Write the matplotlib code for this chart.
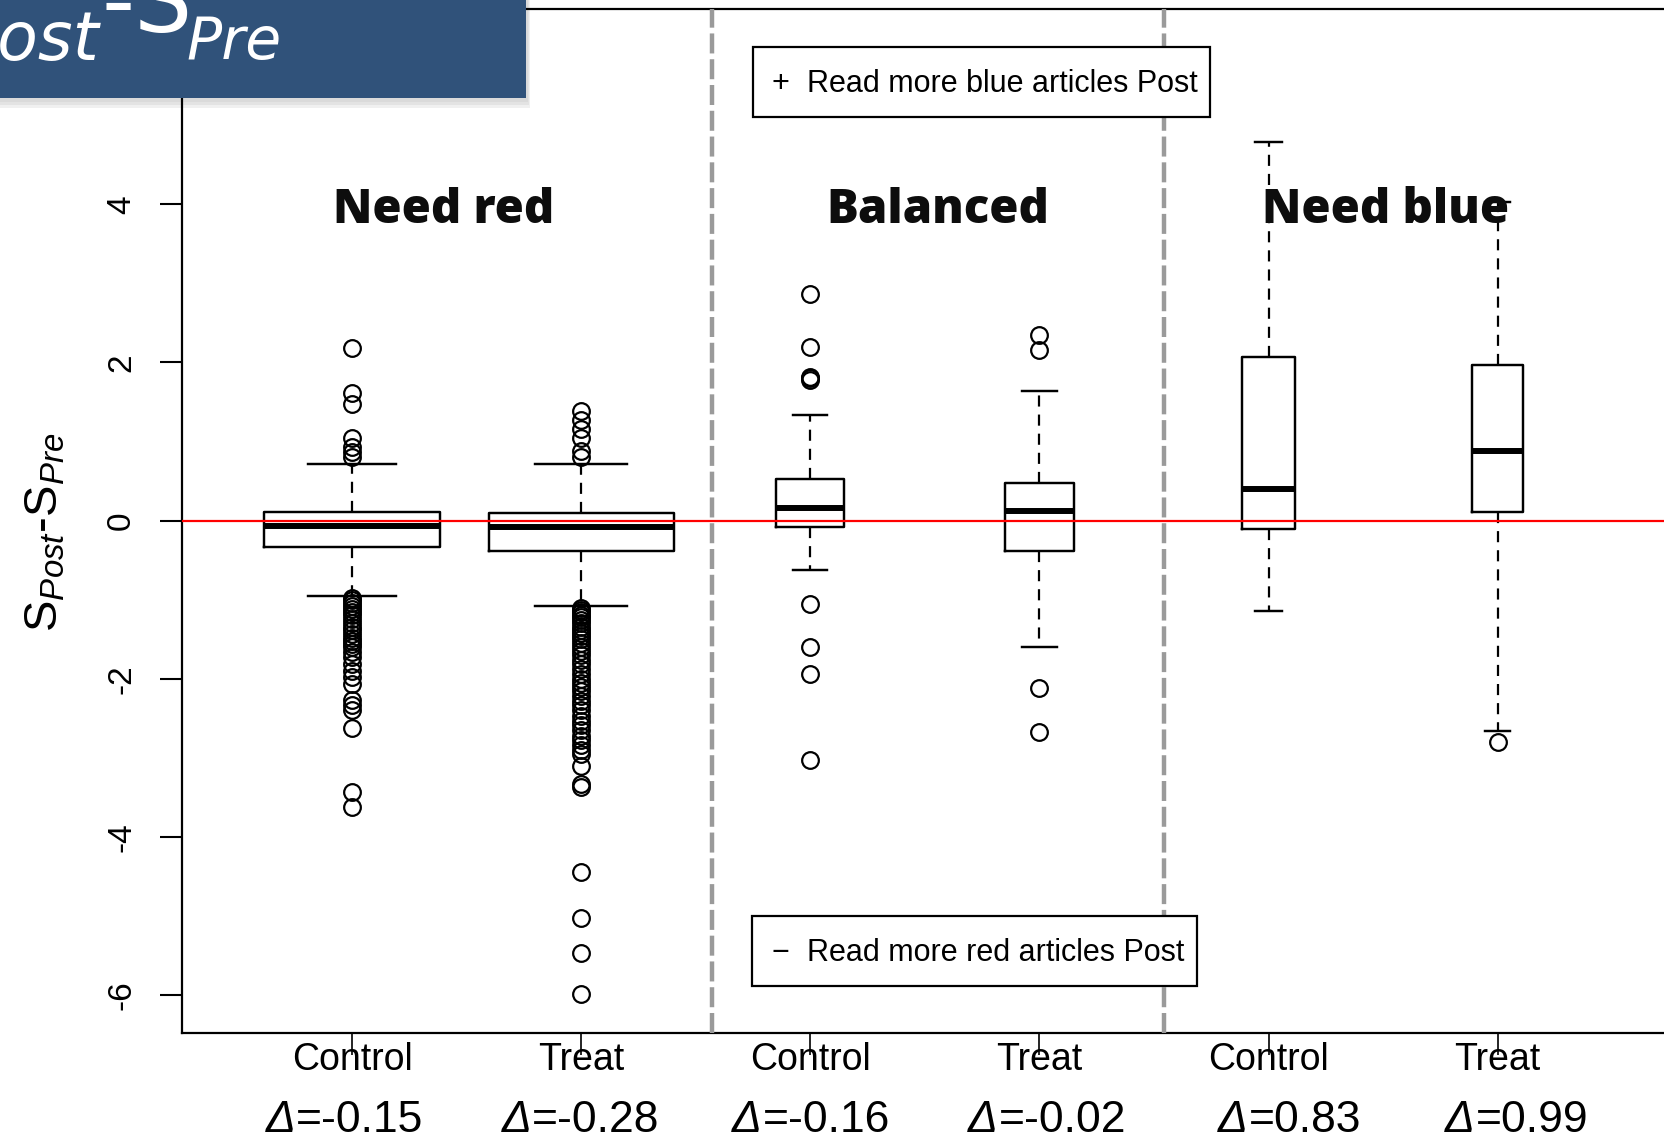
import matplotlib
matplotlib.use('Agg')
import matplotlib.pyplot as plt
from matplotlib.patches import Rectangle
from matplotlib.transforms import blended_transform_factory, offset_copy

plt.rcParams['axes.unicode_minus'] = False
plt.rcParams['mathtext.fontset'] = 'custom'
plt.rcParams['mathtext.rm'] = 'Liberation Sans'
plt.rcParams['mathtext.it'] = 'Liberation Sans:italic'

# data
groups = ['Need red', 'Balanced', 'Need blue']
tick_labels = ['Control', 'Treat', 'Control', 'Treat', 'Control', 'Treat']
deltas = ['-0.15', '-0.28', '-0.16', '-0.02', '0.83', '0.99']

q1 = [-0.33, -0.386, -0.086, -0.39, -0.11, 0.11]
med = [-0.07, -0.086, 0.16, 0.12, 0.40, 0.88]
q3 = [0.11, 0.09, 0.525, 0.48, 2.07, 1.97]
whislo = [-0.96, -1.08, -0.63, -1.60, -1.145, -2.66]
whishi = [0.72, 0.72, 1.33, 1.64, 4.79, 4.03]

fliers_red_ctrl = [2.18, 1.61, 1.48, 1.04, 0.93, 0.87, 0.81,
                   -0.98, -1.01, -1.04, -1.08, -1.12, -1.16, -1.2, -1.25, -1.3,
                   -1.34, -1.38, -1.43, -1.48, -1.52, -1.56, -1.6, -1.66, -1.73,
                   -1.82, -1.9, -1.98, -2.07, -2.27, -2.33, -2.4, -2.62, -3.43, -3.62]
fliers_red_treat = [1.38, 1.27, 1.16, 1.05, 0.88, 0.81,
                    -1.1, -1.13, -1.16, -1.19, -1.22, -1.26, -1.3, -1.34, -1.38,
                    -1.42, -1.46, -1.5, -1.55, -1.6, -1.65, -1.7, -1.76, -1.82,
                    -1.88, -1.94, -2.0, -2.05, -2.1, -2.16, -2.22, -2.28, -2.33,
                    -2.4, -2.47, -2.53, -2.59, -2.65, -2.72, -2.78, -2.84, -2.9,
                    -2.95, -3.11, -3.33, -3.37, -4.44, -5.03, -5.47, -5.99]
fliers_bal_ctrl = [2.87, 2.20, 1.82, 1.80, 1.78, -1.06, -1.60, -1.94, -3.03]
fliers_bal_treat = [2.35, 2.16, -2.12, -2.67]
fliers_blue_ctrl = []
fliers_blue_treat = [-2.80]
fliers = [fliers_red_ctrl, fliers_red_treat, fliers_bal_ctrl,
          fliers_bal_treat, fliers_blue_ctrl, fliers_blue_treat]

# layout
box_w = [0.765, 0.807, 0.298, 0.302, 0.232, 0.222]
title_x = [1.40, 3.555, 5.51]
delta_x = [0.965, 1.995, 3.0, 4.03, 5.09, 6.08]
W, H = 1664, 1139


def px(x, y):
    return x / W, 1 - y / H


fig = plt.figure(figsize=(W / 100, H / 100), dpi=100)
ax = fig.add_axes([0.1094, 0.0931, 0.8925, 0.8994])

positions = list(range(1, len(med) + 1))
stats = []
for i in range(len(med)):
    stats.append(dict(med=med[i], q1=q1[i], q3=q3[i], whislo=whislo[i],
                      whishi=whishi[i], fliers=fliers[i], label=tick_labels[i]))

lw = 1.75
ax.bxp(stats, positions=positions, widths=box_w,
       capwidths=[w / 2 for w in box_w],
       boxprops=dict(color='black', lw=lw),
       medianprops=dict(color='black', lw=4.3, solid_capstyle='butt'),
       whiskerprops=dict(color='black', lw=1.6, linestyle=(0, (5, 3.6))),
       capprops=dict(color='black', lw=lw),
       flierprops=dict(marker='o', markerfacecolor='none', markeredgecolor='black',
                       markersize=12, markeredgewidth=1.6))

ax.axhline(0, color='red', lw=1.6, zorder=3)
for xs in [2.57, 4.546]:
    ax.axvline(xs, color='#9a9a9a', lw=3.2, linestyle=(0, (4.5, 1.3)), zorder=4)

ax.set_xlim(0.258, 6.74)
ax.set_ylim(-6.48, 6.476)
ax.set_yticks([-6, -4, -2, 0, 2, 4])
ax.set_yticklabels(['-6', '-4', '-2', '0', '2', '4'], rotation=90,
                   va='center', ha='right', fontsize=24, family='Liberation Sans')
ax.set_xticks(positions)
ax.set_xticklabels(tick_labels, fontsize=27, family='Liberation Sans')
ax.tick_params(axis='y', length=15.8, width=1.5, pad=16.5)
ax.tick_params(axis='x', length=15.8, width=1.2, pad=-9.5)
for s in ax.spines.values():
    s.set_linewidth(1.6)

for g, tx in zip(groups, title_x):
    ax.text(tx, 3.76, g, ha='center', va='baseline', fontsize=34,
            fontweight='heavy', family='Open Sans', color='#0d0d0d', zorder=5)

# legend-like boxes
for (x0, y0, x1, y1), sym, lab in [((0.3842, 0.8944, 0.6923, 0.9627), '+', 'Read more blue articles Post'),
                                   ((0.3841, 0.0459, 0.6835, 0.1142), '\u2212', 'Read more red articles Post')]:
    ax.add_patch(Rectangle((x0, y0), x1 - x0, y1 - y0, transform=ax.transAxes,
                           facecolor='white', edgecolor='black', lw=1.6, zorder=6))
    yc = (y0 + y1) / 2 - 0.002
    ax.text(x0 + 0.0185, yc, sym, transform=ax.transAxes, ha='center', va='center',
            fontsize=22, family='Liberation Sans', zorder=7)
    ax.text(x0 + 0.0366, yc, lab, transform=ax.transAxes, ha='left', va='center',
            fontsize=22, family='Liberation Sans', zorder=7)

# delta labels under the ticks: italic delta, upright value
renderer = fig.canvas.get_renderer()
tr = blended_transform_factory(ax.transData, fig.transFigure)
ybase = 1 - 1132 / H
for dx, d in zip(delta_x, deltas):
    t1 = fig.text(dx, ybase, '\u0394', transform=tr, ha='left', va='baseline',
                  fontsize=32, style='italic', family='Liberation Sans')
    t2 = fig.text(dx, ybase, '=' + d, transform=tr, ha='left', va='baseline',
                  fontsize=32, family='Liberation Sans')
    w1 = t1.get_window_extent(renderer).width
    w2 = t2.get_window_extent(renderer).width
    start = -(w1 + w2) / 2
    t1.set_transform(offset_copy(tr, fig, x=start, y=0, units='dots'))
    t2.set_transform(offset_copy(tr, fig, x=start + w1 + 1, y=0, units='dots'))

# y axis label
fig.text(0.0268, 1 - 532 / H, r'$\mathrm{S}_{\mathit{Post}}\text{-}\mathrm{S}_{\mathit{Pre}}$',
         rotation=90, ha='center', va='center', fontsize=34)

# title banner in the top-left corner (cut off by the figure edge, as in the source)
for k, a in enumerate([0.06, 0.05, 0.04]):
    fig.patches.append(Rectangle(px(0, 108 - 3 * k), (530 - k) / W, (108 - 3 * k) / H,
                                 transform=fig.transFigure, facecolor='black',
                                 alpha=a, edgecolor='none', zorder=9))
fig.patches.append(Rectangle(px(0, 97.6), 526 / W, 97.6 / H, transform=fig.transFigure,
                             facecolor='#30527a', edgecolor='none', zorder=10))
fig.text(*px(99, 60), 'Post', ha='right', va='baseline', fontsize=48,
         style='italic', family='DejaVu Sans', color='white', zorder=11)
fig.text(*px(101, 32), '-S', ha='left', va='baseline', fontsize=66,
         family='DejaVu Sans', color='white', zorder=11)
fig.text(*px(186, 59), 'Pre', ha='left', va='baseline', fontsize=42,
         style='italic', family='DejaVu Sans', color='white', zorder=11)

fig.savefig('out.png', dpi=100)
